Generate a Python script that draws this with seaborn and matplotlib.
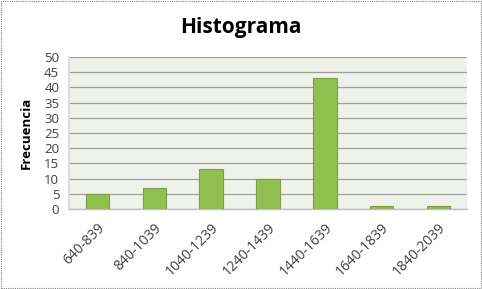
import matplotlib
matplotlib.use("Agg")
import matplotlib.pyplot as plt
import matplotlib.transforms as mtransforms
import seaborn as sns
import pandas as pd
from matplotlib.patches import Rectangle

categories = ["640-839", "840-1039", "1040-1239", "1240-1439", "1440-1639", "1640-1839", "1840-2039"]
frecuencia = [5, 7, 13, 10, 43, 1, 1]
yticks = [0, 5, 10, 15, 20, 25, 30, 35, 40, 45, 50]

df = pd.DataFrame({"Clase": categories, "Frecuencia": frecuencia})

sns.set_theme(style="white")
plt.rcParams['font.family'] = ['Open Sans', 'DejaVu Sans']

fig = plt.figure(figsize=(4.82, 2.89), dpi=100)
ax = fig.add_axes([69/482, 1 - 209/289, (467-69)/482, (209-57)/289])

ax.set_facecolor("#eff2ea")
sns.barplot(data=df, x="Clase", y="Frecuencia", ax=ax, color="#92c050",
            width=0.41, saturation=1, edgecolor="#7a9e40", linewidth=0.8, zorder=3)

ax.set_ylim(0, 50)
ax.set_yticks(yticks)
ax.set_xlim(-0.5, len(categories) - 0.5)
ax.yaxis.grid(True, color="#a0a0a0", linewidth=0.9, zorder=0)
ax.set_axisbelow(True)
for s in ["top", "right"]:
    ax.spines[s].set_visible(False)
ax.spines["bottom"].set_color("#bfbfbf")
ax.spines["bottom"].set_linewidth(1.0)
ax.spines["left"].set_color("#d9d9d9")

ax.tick_params(axis="y", labelsize=9.5, colors="#404040", length=0, pad=7)
ax.tick_params(axis="x", labelsize=10, colors="#404040", length=0, pad=12)
ax.set_xticks(range(len(categories)))
ax.set_xticklabels(categories, rotation=45, ha="right", va="center", rotation_mode="anchor")
offset = mtransforms.ScaledTranslation(5/100, 0, fig.dpi_scale_trans)
for lab in ax.get_xticklabels():
    lab.set_transform(lab.get_transform() + offset)
ax.set_xlabel("")
ax.set_ylabel("Frecuencia", fontsize=9.5, fontweight="bold", color="#000000", labelpad=8)

fig.text(0.5, 1 - 28/289, "Histograma", ha="center", va="center",
         fontsize=15, fontweight="bold", color="#000000")

border = Rectangle((0.002, 0.003), 0.995, 0.993, transform=fig.transFigure,
                   fill=False, edgecolor="#808080", linewidth=0.8, linestyle=(0, (1, 1)))
fig.patches.append(border)

fig.savefig("out.png", dpi=100)
